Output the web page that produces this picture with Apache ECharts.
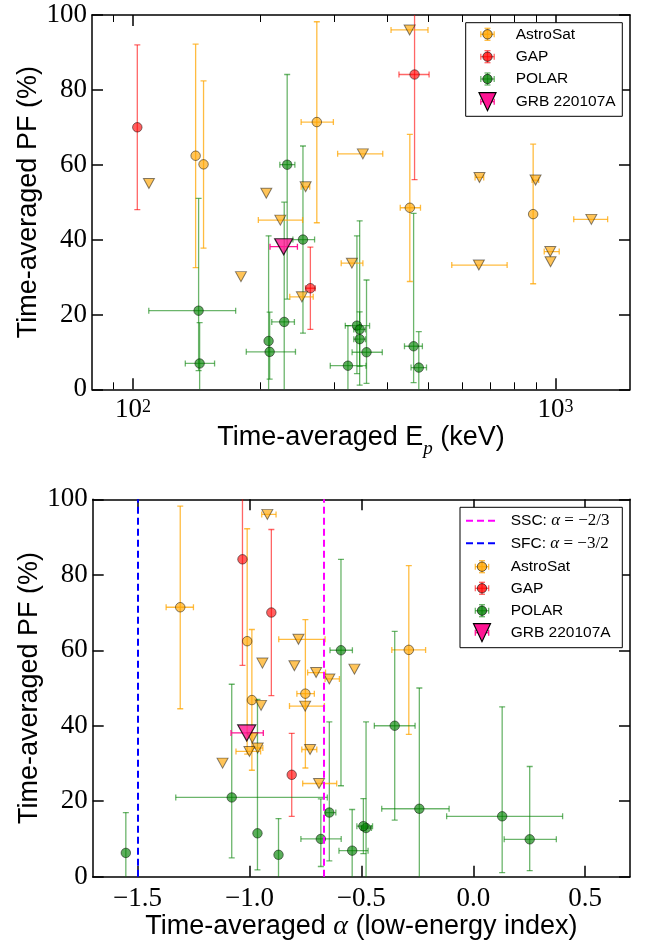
<!DOCTYPE html>
<html><head><meta charset="utf-8">
<script src="https://cdn.jsdelivr.net/npm/echarts@6/dist/echarts.min.js"></script>
<style>html,body{margin:0;padding:0;background:#fff}#c{width:649px;height:944px}</style>
</head><body><div id="c"></div>
<script>
// ---------------- DATA ----------------
// AstroSat detections (circles)
const astroEp      = [140.7, 146.9, 272.3, 452, 885];
const astroEpLo    = [140.7, 146.9, 250, 429, 885];
const astroEpHi    = [140.7, 146.9, 298, 479, 885];
const astroAlpha   = [-1.010, -0.288, -1.309, -0.750, -0.989];
const astroAlphaLo = [-1.010, -0.364, -1.372, -0.788, -0.989];
const astroAlphaHi = [-1.010, -0.213, -1.250, -0.710, -0.989];
const astroPF      = [62.4, 60.1, 71.4, 48.5, 46.8];
const astroPFLo    = [32.5, 37.7, 44.5, 28.8, 28.2];
const astroPFHi    = [92.2, 82.4, 98.2, 68.1, 65.5];

// AstroSat upper limits (down triangles)
const ulEp      = [109.1, 180.1, 206.8, 223.2, 256.2, 251, 349.9, 329.6, 451.5, 658.4, 660.6, 896.6, 971.6, 973, 1215];
const ulEpLo    = [109.1, 180.1, 206.8, 198, 250, 235, 305, 311, 408, 568, 645, 880, 940, 973, 1104];
const ulEpHi    = [109.1, 180.1, 206.8, 252, 262, 267, 390, 350, 499, 768, 676, 912, 1020, 973, 1328];
const ulPF      = [55.0, 30.1, 52.4, 45.2, 54.1, 24.7, 62.9, 33.7, 96.0, 33.2, 56.6, 55.9, 36.8, 34.1, 45.4];
const ulAlpha   = [-0.531, -1.120, -0.643, -0.751, -0.702, -0.689, -0.781, -0.729, -0.920, -1.000, -0.942, -0.799, -0.987, -0.963, -0.948];
const ulAlphaLo = [-0.531, -1.120, -0.662, -0.821, -0.740, -0.762, -0.869, -0.766, -0.945, -1.060, -0.942, -0.799, -0.987, -0.986, -0.948];
const ulAlphaHi = [-0.531, -1.120, -0.598, -0.665, -0.660, -0.610, -0.662, -0.699, -0.881, -0.950, -0.942, -0.799, -0.987, -0.940, -0.948];

// GAP
const gapEp      = [102.4, 463.8, 262.9];
const gapEpLo    = [102.4, 426, 256];
const gapEpHi    = [102.4, 502, 270];
const gapAlpha   = [-0.902, -1.031, -0.811];
const gapPF      = [70.0, 84.1, 27.0];
const gapPFLo    = [48.0, 56.0, 16.0];
const gapPFHi    = [92.0, 112.0, 38.0];

// POLAR
const polarEp      = [143.0, 143.8, 209.4, 210.6, 228.0, 231.7, 252.5, 322.6, 338.8, 343.9, 343.9, 357.0, 461.4, 474.6];
const polarEpLo    = [109, 133, 209.4, 185.4, 213, 222.6, 239, 293, 318, 333, 333, 330, 439, 455];
const polarEpHi    = [175, 156, 209.4, 242.4, 241, 241.6, 269, 356, 363, 355, 355, 389, 484, 495];
const polarPF      = [21.0, 6.9, 12.9, 10.0, 18.0, 60.0, 40.0, 6.3, 17.0, 16.0, 13.4, 9.9, 11.5, 5.8];
const polarPFLo    = [5.0, -4.0, -15.0, 2.7, -14.0, 24.1, 15.0, -4.4, 4.2, 1.1, 6.1, 1.6, 1.8, -3.8];
const polarPFHi    = [51.0, 17.8, 41.0, 20.6, 50.0, 84.1, 65.0, 17.0, 41.0, 45.0, 20.7, 29.2, 47.0, 15.4];
const polarAlpha   = [-1.079, -0.541, -0.479, -0.681, -0.241, -0.591, -0.351, -1.552, -0.643, 0.129, -0.491, 0.252, -0.964, -0.870];
const polarAlphaLo = [-1.329, -0.600, -0.500, -0.770, -0.409, -0.640, -0.442, -1.552, -0.660, -0.119, -0.520, 0.138, -0.964, -0.870];
const polarAlphaHi = [-0.652, -0.470, -0.455, -0.590, -0.108, -0.540, -0.260, -1.552, -0.614, 0.399, -0.450, 0.371, -0.964, -0.870];

// GRB 220107A
const grbEp = [227.3], grbEpLo = [211], grbEpHi = [245];
const grbAlpha = [-1.012], grbAlphaLo = [-1.082], grbAlphaHi = [-0.938];
const grbPF = [38.1];

// model lines
const sscAlpha = -2 / 3;
const sfcAlpha = -1.5;

// ticks
const epMajorTicks = [100, 1000];
const epMinorTicks = [90, 200, 300, 400, 500, 600, 700, 800, 900];
const alphaTicks = [-1.5, -1.0, -0.5, 0.0, 0.5];

const legendTop = ['AstroSat', 'GAP', 'POLAR', 'GRB 220107A'];

// ---------------- STYLE ----------------
const SERIF = "'Liberation Serif','DejaVu Serif',serif";
const SANS = "'Liberation Sans','DejaVu Sans',Arial,sans-serif";
const COL = {
  astro: {mk: 'rgba(255,165,0,0.82)', eb: 'rgba(255,165,0,0.75)'},
  gap:   {mk: 'rgba(255,0,0,0.78)',   eb: 'rgba(255,0,0,0.6)'},
  polar: {mk: 'rgba(0,128,0,0.8)',    eb: 'rgba(0,128,0,0.58)'},
  grb:   {mk: 'rgb(255,20,147)',      eb: 'rgb(255,20,147)'}
};
const EDGE = 'rgba(0,0,0,0.6)';

function rows(x, xlo, xhi, y, ylo, yhi) {
  return x.map((v, i) => [v, y[i], xlo ? xlo[i] : v, xhi ? xhi[i] : v, ylo ? ylo[i] : y[i], yhi ? yhi[i] : y[i]]);
}
function pts(x, y) { return x.map((v, i) => [v, y[i]]); }

function errSeries(name, data, color, xi, yi) {
  return {
    type: 'custom', name, xAxisIndex: xi, yAxisIndex: yi, clip: true, silent: true, z: 2,
    data, encode: {x: 0, y: 1},
    renderItem(params, api) {
      const x = api.value(0), y = api.value(1);
      const xlo = api.value(2), xhi = api.value(3), ylo = api.value(4), yhi = api.value(5);
      const ch = [];
      const st = {stroke: color, lineWidth: 1.3, fill: null};
      const cap = 3;
      const L = (x1, y1, x2, y2) => ch.push({type: 'line', shape: {x1, y1, x2, y2}, style: st});
      if (xhi !== xlo) {
        const a = api.coord([xlo, y]), b = api.coord([xhi, y]);
        L(a[0], a[1], b[0], b[1]);
        L(a[0], a[1] - cap, a[0], a[1] + cap);
        L(b[0], b[1] - cap, b[0], b[1] + cap);
      }
      if (yhi !== ylo) {
        const a = api.coord([x, ylo]), b = api.coord([x, yhi]);
        L(a[0], a[1], b[0], b[1]);
        L(a[0] - cap, a[1], a[0] + cap, a[1]);
        L(b[0] - cap, b[1], b[0] + cap, b[1]);
      }
      return {type: 'group', children: ch};
    }
  };
}
function dotSeries(name, data, color, xi, yi, opts) {
  return Object.assign({
    type: 'scatter', name, xAxisIndex: xi, yAxisIndex: yi, data, silent: true, z: 3,
    symbol: 'circle', symbolSize: 9.5,
    itemStyle: {color, borderColor: EDGE, borderWidth: 1},
    emphasis: {disabled: true}
  }, opts || {});
}

function buildSeries(xs, xi, yi) {
  const isE = xs === 'ep';
  const A = isE ? [astroEp, astroEpLo, astroEpHi] : [astroAlpha, astroAlphaLo, astroAlphaHi];
  const U = isE ? [ulEp, ulEpLo, ulEpHi] : [ulAlpha, ulAlphaLo, ulAlphaHi];
  const G = isE ? [gapEp, gapEpLo, gapEpHi] : [gapAlpha, null, null];
  const P = isE ? [polarEp, polarEpLo, polarEpHi] : [polarAlpha, polarAlphaLo, polarAlphaHi];
  const R = isE ? [grbEp, grbEpLo, grbEpHi] : [grbAlpha, grbAlphaLo, grbAlphaHi];
  const s = [];
  s.push(errSeries('AstroSat err', rows(A[0], A[1], A[2], astroPF, astroPFLo, astroPFHi), COL.astro.eb, xi, yi));
  s.push(dotSeries('AstroSat', pts(A[0], astroPF), COL.astro.mk, xi, yi));
  s.push(errSeries('GAP err', rows(G[0], G[1], G[2], gapPF, gapPFLo, gapPFHi), COL.gap.eb, xi, yi));
  s.push(dotSeries('GAP', pts(G[0], gapPF), COL.gap.mk, xi, yi));
  s.push(errSeries('POLAR err', rows(P[0], P[1], P[2], polarPF, polarPFLo, polarPFHi), COL.polar.eb, xi, yi));
  s.push(dotSeries('POLAR', pts(P[0], polarPF), COL.polar.mk, xi, yi));
  s.push(errSeries('AstroSat UL err', rows(U[0], U[1], U[2], ulPF), COL.astro.eb, xi, yi));
  s.push(dotSeries('AstroSat UL', pts(U[0], ulPF), COL.astro.mk, xi, yi,
    {symbol: 'triangle', symbolRotate: 180, symbolSize: [11, 10], z: 4,
     itemStyle: {color: COL.astro.mk, borderColor: EDGE, borderWidth: 1}}));
  s.push(errSeries('GRB err', rows(R[0], R[1], R[2], grbPF), COL.grb.eb, xi, yi));
  s.push(dotSeries('GRB 220107A', pts(R[0], grbPF), COL.grb.mk, xi, yi,
    {symbol: 'triangle', symbolRotate: 180, symbolSize: [18, 16], z: 5,
     itemStyle: {color: COL.grb.mk, borderColor: '#000', borderWidth: 1.2}}));
  return s;
}

// ---------------- AXES ----------------
const frame = {show: true, onZero: false, lineStyle: {color: '#000', width: 1.5}};
const tickMajor = {show: true, inside: true, length: 11, lineStyle: {color: '#000', width: 1.5}};
const tickMinor = {show: true, inside: true, length: 7, lineStyle: {color: '#000', width: 1}};
const noSplit = {show: false};
const tickFont = {fontFamily: SERIF, fontSize: 27, color: '#000'};
const titleRich = {
  t: {fontFamily: SANS, fontSize: 27, color: '#000', lineHeight: 34, verticalAlign: 'top'},
  p: {fontFamily: SERIF, fontSize: 19, fontStyle: 'italic', color: '#000', lineHeight: 19, verticalAlign: 'top', padding: [15, 0, 0, 0]},
  a: {fontFamily: SERIF, fontSize: 28, fontStyle: 'italic', color: '#000', lineHeight: 34, verticalAlign: 'top'}
};

const epRange = {min: 80, max: 1500};
const alRange = {min: -1.7, max: 0.7};

const xAxes = [
  Object.assign({type: 'log', logBase: 10, gridIndex: 0, position: 'bottom', axisLine: frame, splitLine: noSplit,
    axisTick: Object.assign({customValues: epMajorTicks}, tickMajor),
    axisLabel: {customValues: epMajorTicks, margin: 7,
      formatter: v => '{b|10}{s|' + Math.round(Math.log10(v)) + '}',
      rich: {b: {fontFamily: SERIF, fontSize: 27, color: '#000', lineHeight: 30, verticalAlign: 'top'},
             s: {fontFamily: SERIF, fontSize: 18, color: '#000', lineHeight: 18, verticalAlign: 'top', padding: [2, 0, 0, 0]}}},
    name: '{t|Time-averaged E}{p|p}{t| (keV)}', nameLocation: 'middle', nameGap: 35, nameMoveOverlap: false,
    nameTextStyle: {rich: titleRich}}, epRange),
  Object.assign({type: 'log', logBase: 10, gridIndex: 0, position: 'bottom', axisLine: {show: false, onZero: false}, splitLine: noSplit,
    axisTick: Object.assign({customValues: epMinorTicks}, tickMinor), axisLabel: {show: false}}, epRange),
  Object.assign({type: 'log', logBase: 10, gridIndex: 0, position: 'top', axisLine: frame, splitLine: noSplit,
    axisTick: Object.assign({customValues: epMajorTicks}, tickMajor), axisLabel: {show: false}}, epRange),
  Object.assign({type: 'log', logBase: 10, gridIndex: 0, position: 'top', axisLine: {show: false, onZero: false}, splitLine: noSplit,
    axisTick: Object.assign({customValues: epMinorTicks}, tickMinor), axisLabel: {show: false}}, epRange),
  Object.assign({type: 'value', gridIndex: 1, position: 'bottom', axisLine: frame, splitLine: noSplit,
    axisTick: Object.assign({customValues: alphaTicks}, tickMajor),
    axisLabel: Object.assign({customValues: alphaTicks, margin: 9,
      formatter: v => (v < 0 ? '\u2212' : '') + Math.abs(v).toFixed(1)}, tickFont),
    name: '{t|Time-averaged }{a|\u03b1}{t| (low-energy index)}', nameLocation: 'middle', nameGap: 36, nameMoveOverlap: false,
    nameTextStyle: {rich: titleRich}}, alRange),
  Object.assign({type: 'value', gridIndex: 1, position: 'top', axisLine: frame, splitLine: noSplit,
    axisTick: Object.assign({customValues: alphaTicks}, tickMajor), axisLabel: {show: false}}, alRange)
];

function yAx(grid, pos, withLabel) {
  const o = {type: 'value', gridIndex: grid, position: pos, min: 0, max: 100, interval: 20,
    axisLine: frame, splitLine: noSplit, axisTick: tickMajor,
    axisLabel: withLabel ? Object.assign({margin: 5}, tickFont) : {show: false}};
  if (withLabel) {
    Object.assign(o, {name: 'Time-averaged PF (%)', nameLocation: 'middle', nameGap: 50, nameRotate: 90, nameMoveOverlap: false,
      nameTextStyle: {fontFamily: SANS, fontSize: 27, color: '#000'}});
  }
  return o;
}
const yAxes = [yAx(0, 'left', true), yAx(0, 'right', false), yAx(1, 'left', true), yAx(1, 'right', false)];

// ---------------- SERIES ----------------
const series = [].concat(buildSeries('ep', 0, 0), buildSeries('alpha', 4, 2));
series.push({
  type: 'scatter', xAxisIndex: 4, yAxisIndex: 2, data: [], silent: true,
  markLine: {silent: true, symbol: ['none', 'none'], animation: false, label: {show: false},
    data: [
      {xAxis: sscAlpha, lineStyle: {color: '#ff00ff', width: 2, type: [7, 4]}},
      {xAxis: sfcAlpha, lineStyle: {color: '#0000ff', width: 2, type: [7, 4]}}
    ]}
});

// ---------------- LEGENDS (graphic) ----------------
function ebIcon(cx, cy, ebColor, mkColor, tri) {
  const st = {stroke: ebColor, lineWidth: 1.3, fill: null};
  const ch = [];
  const L = (x1, y1, x2, y2) => ch.push({type: 'line', shape: {x1, y1, x2, y2}, style: st});
  const hx = 6.7, hy = 6;
  L(cx - hx, cy, cx + hx, cy); L(cx - hx, cy - 3, cx - hx, cy + 3); L(cx + hx, cy - 3, cx + hx, cy + 3);
  if (!tri) { L(cx, cy - hy, cx, cy + hy); L(cx - 3, cy - hy, cx + 3, cy - hy); L(cx - 3, cy + hy, cx + 3, cy + hy); }
  if (tri) {
    ch.push({type: 'polygon', shape: {points: [[cx - 8.5, cy - 9], [cx + 8.5, cy - 9], [cx, cy + 9]]},
      style: {fill: mkColor, stroke: '#000', lineWidth: 1.2}});
  } else {
    ch.push({type: 'circle', shape: {cx, cy, r: 4.7}, style: {fill: mkColor, stroke: EDGE, lineWidth: 1}});
  }
  return ch;
}
const legendCols = [COL.astro, COL.gap, COL.polar, COL.grb];
function legendBlock(box, iconX, textX, rowsY, extraTop) {
  const els = [{type: 'rect', shape: {x: box[0], y: box[1], width: box[2], height: box[3]},
    style: {fill: '#fff', stroke: '#000', lineWidth: 1}, z: 100}];
  let k = 0;
  (extraTop || []).forEach(e => {
    const y = rowsY[k++];
    els.push({type: 'line', shape: {x1: e.x1, y1: y, x2: e.x2, y2: y}, style: {stroke: e.color, lineWidth: 2, lineDash: [7, 4]}, z: 101});
    els.push({type: 'text', x: textX, y: y, z: 101, style: {text: e.text, rich: e.rich, verticalAlign: 'middle', align: 'left'}});
  });
  legendTop.forEach((nm, i) => {
    const y = rowsY[k++];
    ebIcon(iconX, y, legendCols[i].eb, legendCols[i].mk, i === 3).forEach(c => { c.z = 101; els.push(c); });
    els.push({type: 'text', x: textX, y: y, z: 101,
      style: {text: nm, font: '15.5px ' + SANS, fill: '#000', verticalAlign: 'middle', align: 'left'}});
  });
  return els;
}
const mathRich = {
  s: {fontFamily: SANS, fontSize: 15.5, color: '#000'},
  a: {fontFamily: SERIF, fontSize: 17, fontStyle: 'italic', color: '#000'},
  m: {fontFamily: SERIF, fontSize: 17, color: '#000'}
};
const graphics = [].concat(
  legendBlock([465.7, 22.7, 156.6, 93.6], 487.5, 515.7, [34.3, 56.7, 79, 101.7]),
  legendBlock([460, 507.3, 162.3, 140.4], 482, 510.7, [520.7, 543.3, 566.7, 588.3, 610.7, 632.7], [
    {x1: 466, x2: 497.7, color: '#ff00ff', text: '{s|SSC: }{a|\u03b1}{m| = \u22122/3}', rich: mathRich},
    {x1: 466, x2: 497.7, color: '#0000ff', text: '{s|SFC: }{a|\u03b1}{m| = \u22123/2}', rich: mathRich}
  ])
);

const chart = echarts.init(document.getElementById('c'), null, {renderer: 'canvas'});
chart.setOption({
  animation: false,
  backgroundColor: '#fff',
  grid: [
    {left: 92, top: 15, width: 538, height: 374.3, outerBoundsMode: 'none', containLabel: false},
    {left: 92.7, top: 499.3, width: 537.3, height: 377.4, outerBoundsMode: 'none', containLabel: false}
  ],
  xAxis: xAxes,
  yAxis: yAxes,
  series,
  graphic: {elements: graphics}
});
</script></body></html>
